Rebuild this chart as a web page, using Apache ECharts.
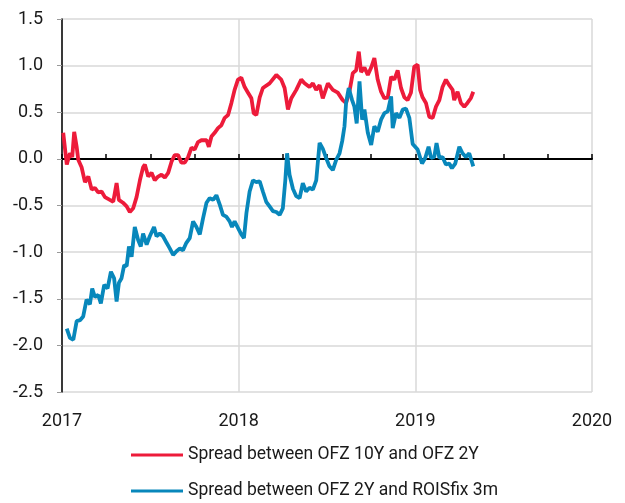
<!DOCTYPE html>
<html>
<head>
<meta charset="utf-8">
<title>OFZ spreads</title>
<script src="https://cdn.jsdelivr.net/npm/echarts@6/dist/echarts.min.js"></script>
<style>
  html, body { margin: 0; padding: 0; background: #fff; }
  #chart { width: 625px; height: 503px; }
</style>
</head>
<body>
<div id="chart"></div>
<script>
// x positions are decimal years
const seriesNames = ['Spread between OFZ 10Y and OFZ 2Y', 'Spread between OFZ 2Y and ROISfix 3m']
const yearTicks = [2017, 2018, 2019, 2020]

const redYears = [
  2017.007, 2017.027, 2017.045, 2017.058, 2017.069, 2017.083, 2017.092, 2017.111, 2017.130, 2017.149,
  2017.168, 2017.186, 2017.205, 2017.224, 2017.243, 2017.271, 2017.290, 2017.309, 2017.322, 2017.345,
  2017.366, 2017.384, 2017.403, 2017.422, 2017.441, 2017.459, 2017.469, 2017.488, 2017.507, 2017.525,
  2017.544, 2017.563, 2017.582, 2017.601, 2017.620, 2017.638, 2017.657, 2017.676, 2017.695, 2017.714,
  2017.733, 2017.751, 2017.770, 2017.789, 2017.818, 2017.831, 2017.846, 2017.864, 2017.883, 2017.902,
  2017.921, 2017.940, 2017.959, 2017.977, 2017.996, 2018.015, 2018.034, 2018.053, 2018.072, 2018.085,
  2018.100, 2018.119, 2018.137, 2018.175, 2018.213, 2018.241, 2018.260, 2018.279, 2018.298, 2018.326,
  2018.354, 2018.373, 2018.401, 2018.420, 2018.439, 2018.458, 2018.476, 2018.505, 2018.533, 2018.561,
  2018.589, 2018.608, 2018.627, 2018.646, 2018.665, 2018.680, 2018.693, 2018.712, 2018.731, 2018.750,
  2018.768, 2018.787, 2018.806, 2018.825, 2018.844, 2018.863, 2018.881, 2018.900, 2018.919, 2018.938,
  2018.956, 2018.975, 2018.994, 2019.013, 2019.027, 2019.041, 2019.060, 2019.079, 2019.098, 2019.117,
  2019.136, 2019.154, 2019.173, 2019.192, 2019.211, 2019.220, 2019.239, 2019.258, 2019.277, 2019.295,
  2019.314, 2019.328
]
const redValues = [
  0.28, -0.06, 0.06, 0.02, 0.29, 0.13, -0.01, -0.09, -0.25, -0.19,
  -0.33, -0.31, -0.36, -0.35, -0.41, -0.44, -0.46, -0.26, -0.44, -0.47,
  -0.51, -0.57, -0.53, -0.41, -0.23, -0.09, -0.06, -0.19, -0.15, -0.23,
  -0.19, -0.17, -0.20, -0.15, -0.03, 0.04, 0.04, -0.04, -0.04, 0.02,
  0.12, 0.10, 0.18, 0.20, 0.20, 0.13, 0.24, 0.28, 0.33, 0.36,
  0.44, 0.47, 0.60, 0.74, 0.85, 0.87, 0.77, 0.71, 0.65, 0.49,
  0.47, 0.66, 0.76, 0.81, 0.90, 0.85, 0.76, 0.53, 0.65, 0.74,
  0.85, 0.81, 0.77, 0.81, 0.74, 0.79, 0.65, 0.81, 0.74, 0.71,
  0.63, 0.60, 0.72, 0.92, 0.95, 1.15, 0.93, 0.98, 0.90, 0.98,
  1.08, 0.85, 0.72, 0.65, 0.66, 0.88, 0.85, 0.95, 0.76, 0.66,
  0.63, 0.71, 0.99, 1.01, 0.74, 0.66, 0.60, 0.45, 0.44, 0.56,
  0.63, 0.77, 0.85, 0.79, 0.74, 0.63, 0.72, 0.60, 0.56, 0.60,
  0.65, 0.72
]

const blueYears = [
  2017.027, 2017.045, 2017.064, 2017.083, 2017.102, 2017.120, 2017.139, 2017.158, 2017.171, 2017.186,
  2017.205, 2017.220, 2017.239, 2017.258, 2017.277, 2017.295, 2017.309, 2017.322, 2017.337, 2017.352,
  2017.366, 2017.379, 2017.394, 2017.412, 2017.431, 2017.446, 2017.459, 2017.479, 2017.497, 2017.521,
  2017.535, 2017.554, 2017.572, 2017.592, 2017.610, 2017.629, 2017.648, 2017.667, 2017.685, 2017.704,
  2017.723, 2017.742, 2017.761, 2017.780, 2017.798, 2017.818, 2017.836, 2017.855, 2017.874, 2017.893,
  2017.911, 2017.930, 2017.949, 2017.962, 2017.977, 2017.996, 2018.015, 2018.030, 2018.044, 2018.062,
  2018.081, 2018.100, 2018.119, 2018.137, 2018.156, 2018.175, 2018.194, 2018.213, 2018.232, 2018.250,
  2018.264, 2018.274, 2018.288, 2018.307, 2018.326, 2018.345, 2018.363, 2018.382, 2018.401, 2018.420,
  2018.439, 2018.458, 2018.476, 2018.495, 2018.514, 2018.533, 2018.552, 2018.571, 2018.586, 2018.599,
  2018.608, 2018.623, 2018.642, 2018.655, 2018.668, 2018.684, 2018.699, 2018.712, 2018.731, 2018.750,
  2018.768, 2018.787, 2018.806, 2018.825, 2018.844, 2018.863, 2018.872, 2018.891, 2018.910, 2018.929,
  2018.947, 2018.966, 2018.985, 2019.013, 2019.038, 2019.056, 2019.075, 2019.089, 2019.107, 2019.120,
  2019.136, 2019.154, 2019.173, 2019.192, 2019.207, 2019.226, 2019.249, 2019.267, 2019.286, 2019.305,
  2019.328
]
const blueValues = [
  -1.82, -1.92, -1.94, -1.74, -1.73, -1.69, -1.51, -1.56, -1.39, -1.48,
  -1.46, -1.55, -1.35, -1.39, -1.21, -1.28, -1.53, -1.33, -1.28, -1.14,
  -1.15, -0.94, -1.05, -0.73, -0.87, -0.94, -0.80, -0.92, -0.83, -0.73,
  -0.83, -0.80, -0.83, -0.90, -0.96, -1.03, -0.99, -0.96, -0.98, -0.90,
  -0.85, -0.67, -0.73, -0.81, -0.64, -0.47, -0.42, -0.44, -0.39, -0.49,
  -0.60, -0.62, -0.67, -0.73, -0.67, -0.74, -0.81, -0.85, -0.58, -0.35,
  -0.23, -0.25, -0.24, -0.35, -0.46, -0.51, -0.56, -0.57, -0.60, -0.53,
  -0.23, 0.06, -0.17, -0.32, -0.40, -0.42, -0.26, -0.35, -0.31, -0.33,
  -0.23, 0.17, 0.11, 0.01, -0.08, -0.12, -0.01, 0.06, 0.19, 0.35,
  0.60, 0.76, 0.63, 0.56, 0.38, 0.83, 0.42, 0.53, 0.28, 0.15,
  0.35, 0.29, 0.42, 0.49, 0.51, 0.67, 0.33, 0.49, 0.44, 0.53,
  0.54, 0.44, 0.16, 0.10, -0.05, 0.01, 0.13, 0.01, 0.02, 0.17,
  0.01, 0.02, -0.06, -0.05, -0.10, -0.05, 0.13, 0.06, 0.02, 0.06,
  -0.08
]

const zip = (xs, ys) => xs.map((x, i) => [x, ys[i]])

const labelFont = 'Roboto, "Noto Sans", sans-serif'
const gridColor = '#d9d9d9'

const option = {
  animation: false,
  backgroundColor: '#fff',
  color: ['#ED1B3A', '#0887BB'],
  grid: {
    left: 62,
    right: 33,
    top: 19,
    bottom: 111
  },
  legend: {
    orient: 'vertical',
    left: 131,
    top: 446,
    padding: 0,
    itemWidth: 52,
    itemHeight: 3,
    itemGap: 18,
    icon: 'rect',
    textStyle: { fontFamily: labelFont, fontSize: 17.5, color: '#1a1a1a' },
    data: seriesNames
  },
  xAxis: [
    {
      // axis line drawn through zero, quarterly ticks
      type: 'value',
      min: 2017,
      max: 2020,
      interval: 0.25,
      position: 'bottom',
      axisLine: { onZero: true, lineStyle: { color: '#000', width: 2 } },
      axisTick: { show: true, inside: true, length: 5, lineStyle: { color: '#000', width: 1.5 } },
      axisLabel: { show: false },
      splitLine: { show: false }
    },
    {
      // year labels along the bottom + vertical gridlines
      type: 'value',
      min: yearTicks[0],
      max: yearTicks[yearTicks.length - 1],
      interval: 1,
      position: 'bottom',
      axisLine: { show: false, onZero: false },
      axisTick: { show: false },
      axisLabel: {
        margin: 20,
        fontFamily: labelFont,
        fontSize: 18,
        color: '#1a1a1a',
        formatter: v => String(v)
      },
      splitLine: { show: true, lineStyle: { color: gridColor, width: 1.5 } }
    }
  ],
  yAxis: {
    type: 'value',
    min: -2.5,
    max: 1.5,
    interval: 0.5,
    axisLine: { show: true, onZero: false, lineStyle: { color: '#000', width: 1.5 } },
    axisTick: { show: true, length: 5, lineStyle: { color: '#999' } },
    axisLabel: {
      margin: 19,
      fontFamily: labelFont,
      fontSize: 18,
      color: '#1a1a1a',
      formatter: v => v.toFixed(1)
    },
    splitLine: { show: true, lineStyle: { color: gridColor, width: 1.5 } }
  },
  series: [
    {
      name: seriesNames[0],
      type: 'line',
      xAxisIndex: 0,
      showSymbol: false,
      lineStyle: { width: 3.8 },
      data: zip(redYears, redValues)
    },
    {
      name: seriesNames[1],
      type: 'line',
      xAxisIndex: 0,
      showSymbol: false,
      lineStyle: { width: 3.8 },
      data: zip(blueYears, blueValues)
    }
  ]
}

const myChart = echarts.init(document.getElementById('chart'))
myChart.setOption(option)
</script>
</body>
</html>
